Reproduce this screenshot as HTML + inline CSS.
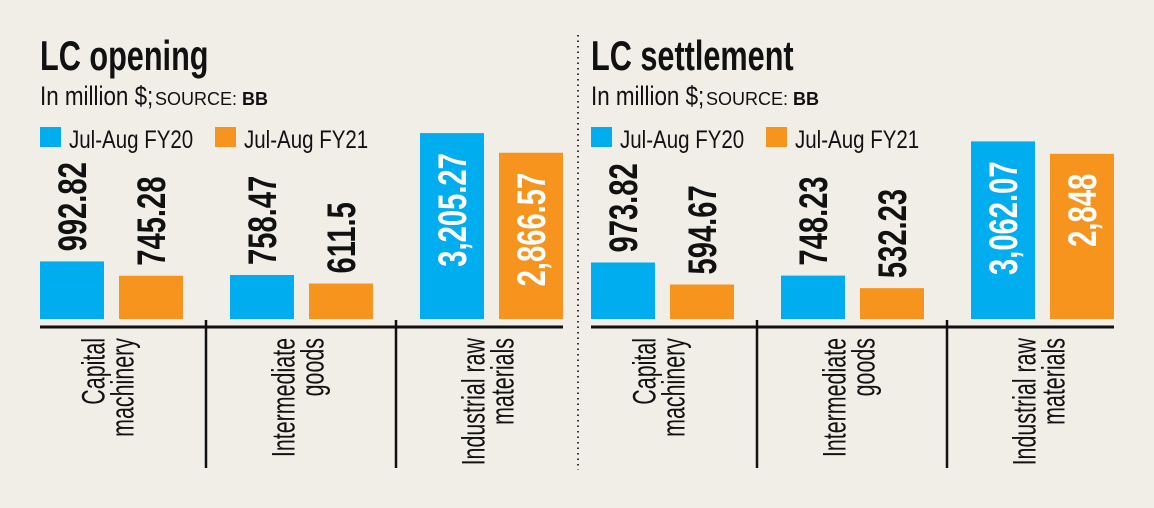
<!DOCTYPE html>
<html><head><meta charset="utf-8"><style>
html,body{margin:0;padding:0;background:#f1eee7;}
svg{display:block;font-family:"Liberation Sans",sans-serif;}
</style></head><body>
<svg id="chart" width="1154" height="508" viewBox="0 0 1154 508">
<rect width="1154" height="508" fill="#f1eee7"/>
<line x1="578" y1="35" x2="578" y2="470" stroke="#333" stroke-width="2" stroke-dasharray="1.5,4"/>
</svg>
<script>
const categories = [["Capital","machinery"],["Intermediate","goods"],["Industrial raw","materials"]];
const openingFY20 = [992.82, 758.47, 3205.27];
const openingFY21 = [745.28, 611.5, 2866.57];
const openingLabels20 = ["992.82","758.47","3,205.27"];
const openingLabels21 = ["745.28","611.5","2,866.57"];
const settleFY20 = [973.82, 748.23, 3062.07];
const settleFY21 = [594.67, 532.23, 2848];
const settleLabels20 = ["973.82","748.23","3,062.07"];
const settleLabels21 = ["594.67","532.23","2,848"];
const legendLabels = ["Jul-Aug FY20","Jul-Aug FY21"];

const NS = "http://www.w3.org/2000/svg";
const svg = document.getElementById('chart');
const BLUE = "#00aeef", ORANGE = "#f7941d";
const BASE = 319, PXPER = 0.058;
function yScale(v){ return BASE - v * PXPER; }

function txt(parent, s, x, y, size, weight, fill, sx, rot, anchor){
  const t = document.createElementNS(NS,'text');
  t.textContent = s;
  t.setAttribute('font-size', size);
  t.setAttribute('font-weight', weight);
  t.setAttribute('fill', fill);
  t.setAttribute('text-anchor', anchor || 'start');
  t.setAttribute('transform', `translate(${x},${y}) ${rot ? 'rotate(-90)' : ''} scale(${sx},1)`);
  parent.appendChild(t);
  return t;
}

function panel(x0, title, v20, v21, l20, l21, slug){
  const g = document.createElementNS(NS,'g');
  
  
  svg.appendChild(g);
  const tt = txt(g, title, x0, 70, 42, 'bold', '#111', 0.73);
  
  
  const sub = txt(g, 'In million $;', x0, 105, 27, 'normal', '#111', 0.83);
  
  
  const src = document.createElementNS(NS,'text');
  src.setAttribute('x', x0 + 115); src.setAttribute('y', 105);
  src.setAttribute('font-size', 18); src.setAttribute('fill', '#111');
  src.innerHTML = 'SOURCE: <tspan font-weight="bold">BB</tspan>';
  
  
  g.appendChild(src);
  // legend
  [[0, BLUE],[175, ORANGE]].forEach((d,i)=>{
    const r = document.createElementNS(NS,'rect');
    r.setAttribute('x', x0 + d[0]); r.setAttribute('y', 127);
    r.setAttribute('width', 21); r.setAttribute('height', 20);
    r.setAttribute('fill', d[1]);
    
    
    g.appendChild(r);
    const lt = txt(g, legendLabels[i], x0 + d[0] + 29, 148, 25, 'normal', '#111', 0.82);
    
    
  });
  // bars
  const groupW = 190, barW = 64, gap = 15;
  for (let i = 0; i < categories.length; i++){
    const gx = x0 + i * groupW;
    [[v20, l20, BLUE, 0, 'fy20'],[v21, l21, ORANGE, barW + gap, 'fy21']].forEach(s=>{
      const v = s[0][i], bx = gx + s[3], top = yScale(v);
      const r = document.createElementNS(NS,'rect');
      r.setAttribute('x', bx); r.setAttribute('y', top);
      r.setAttribute('width', barW); r.setAttribute('height', BASE - top);
      r.setAttribute('fill', s[2]);
      
      
      g.appendChild(r);
      const inside = (BASE - top) > 120;
      let lab;
      if (inside) lab = txt(g, s[1][i], bx + barW/2 + 14, top + 20, 40, 'bold', '#fff', 0.73, true, 'end');
      else lab = txt(g, s[1][i], bx + barW/2 + 14, top - 10, 40, 'bold', '#111', 0.73, true, 'start');
      
      
    });
    const cx = gx + (2*barW + gap)/2;
    const c1 = txt(g, categories[i][0], cx - 7, 338, 32, 'normal', '#111', 0.67, true, 'end');
    
    
    const c2 = txt(g, categories[i][1], cx + 22, 338, 32, 'normal', '#111', 0.67, true, 'end');
    
    
    if (i > 0){
      const tk = document.createElementNS(NS,'line');
      tk.setAttribute('x1', gx - 24); tk.setAttribute('x2', gx - 24);
      tk.setAttribute('y1', 320); tk.setAttribute('y2', 468);
      tk.setAttribute('stroke', '#111'); tk.setAttribute('stroke-width', 2.5);
      
      
      g.appendChild(tk);
    }
  }
  const ax = document.createElementNS(NS,'line');
  ax.setAttribute('x1', x0); ax.setAttribute('x2', x0 + 2*groupW + 2*barW + gap);
  ax.setAttribute('y1', 327); ax.setAttribute('y2', 327);
  ax.setAttribute('stroke', '#111'); ax.setAttribute('stroke-width', 3);
  
  
  g.appendChild(ax);
}
panel(40, 'LC opening', openingFY20, openingFY21, openingLabels20, openingLabels21, 'opening');
panel(591, 'LC settlement', settleFY20, settleFY21, settleLabels20, settleLabels21, 'settlement');
</script>
</body></html>
